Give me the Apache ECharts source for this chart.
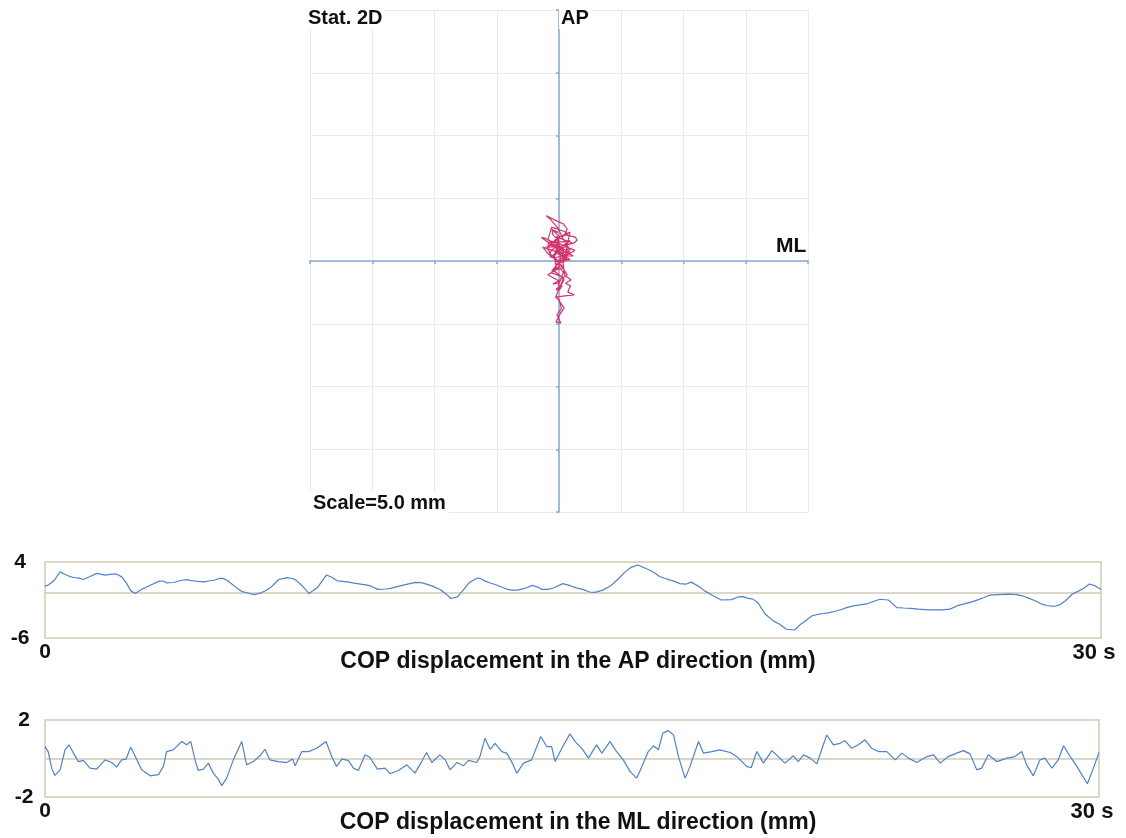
<!DOCTYPE html>
<html>
<head>
<meta charset="utf-8">
<script src="https://cdn.jsdelivr.net/npm/echarts@6/dist/echarts.min.js"></script>
<style>
html,body{margin:0;padding:0;background:#fff;}
#chart{width:1126px;height:838px;}
</style>
</head>
<body>
<div id="chart"></div>
<script>
const times = [
 0.00,0.09,0.19,0.28,0.43,0.57,0.68,0.81,0.95,1.09,1.28,1.47,1.71,1.90,2.04,2.18,2.31,2.44,2.56,2.75,
 2.99,3.23,3.37,3.46,3.65,3.89,4.03,4.15,4.27,4.36,4.51,4.65,4.79,4.93,5.03,5.17,5.36,5.47,5.60,5.74,
 5.93,6.12,6.26,6.40,6.64,6.88,7.05,7.12,7.31,7.50,7.73,8.00,8.16,8.30,8.45,8.63,8.78,8.92,9.11,9.25,
 9.46,9.68,9.82,10.06,10.30,10.53,10.72,10.86,11.01,11.24,11.39,11.53,11.72,11.91,12.05,12.29,12.38,12.52,12.67,12.81,
 13.00,13.14,13.28,13.43,13.62,13.85,14.00,14.11,14.28,14.42,14.52,14.71,14.94,15.09,15.28,15.47,15.61,15.70,15.85,16.08,
 16.27,16.46,16.65,16.84,16.99,17.17,17.32,17.46,17.58,17.74,17.89,18.03,18.22,18.36,18.60,18.74,18.98,19.21,19.50,19.69,
 19.83,19.97,20.10,20.26,20.45,20.69,20.87,21.06,21.30,21.44,21.59,21.78,21.97,22.11,22.25,22.44,22.63,22.77,22.96,23.15,
 23.34,23.53,23.72,23.96,24.20,24.39,24.58,24.81,25.10,25.29,25.48,25.71,25.95,26.14,26.33,26.52,26.66,26.85,27.09,27.38,
 27.61,27.80,27.94,28.13,28.32,28.46,28.66,28.84,28.99,29.18,29.37,29.51,29.67,29.84,30.00
];
// COP displacement, medio-lateral (mm)
const mlValues = [
 0.62,0.36,-0.5,-0.88,-0.59,0.45,0.71,0.28,-0.16,-0.1,-0.5,-0.55,-0.07,-0.21,-0.45,-0.07,-0.03,0.59,0.14,-0.59,
 -0.9,-0.84,-0.41,0.36,0.45,0.88,0.71,0.88,-0.07,-0.62,-0.55,-0.24,-0.76,-1.07,-1.41,-1.02,-0.07,0.36,0.88,-0.33,
 -0.16,0.14,0.48,-0.07,-0.16,-0.21,-0.03,-0.38,0.36,0.36,0.53,0.88,0.1,-0.41,-0.03,-0.1,-0.5,-0.62,0.19,0.05,
 -0.55,-0.5,-0.79,-0.62,-0.33,-0.76,-0.16,0.31,-0.21,0.19,-0.07,-0.59,-0.21,-0.38,-0.1,-0.21,0.1,1.05,0.48,0.79,
 0.36,0.28,-0.16,-0.76,-0.24,-0.07,0.62,1.14,0.62,0.62,-0.16,0.53,1.28,0.88,0.53,0.02,0.45,0.71,0.28,0.88,
 0.36,-0.07,-0.67,-1.02,-0.41,0.36,0.66,0.45,1.31,1.45,1.22,0.1,-1.02,-0.41,0.88,0.28,0.36,0.45,0.31,0.1,
 -0.15,-0.41,-0.48,0.36,-0.24,0.41,0.1,-0.24,0.14,-0.16,0.19,0.02,-0.28,0.48,1.22,0.71,0.79,0.93,0.53,0.71,
 0.97,0.53,0.36,0.36,-0.07,0.28,0.02,-0.21,0.1,0.19,-0.24,0.1,0.28,0.41,0.24,-0.59,-0.5,0.19,-0.16,0.02,
 0.1,0.36,-0.33,-0.9,-0.07,0.02,-0.5,-0.07,0.66,0.1,-0.41,-0.84,-1.31,-0.5,0.31
];
// COP displacement, antero-posterior (mm)
const apValues = [
 0.83,0.96,1.3,1.7,2.7,2.35,2.15,1.96,1.92,1.7,2.1,2.5,2.28,2.4,2.4,2.04,1.25,0.2,-0.13,0.42,
 0.95,1.45,1.5,1.25,1.3,1.6,1.68,1.56,1.5,1.45,1.39,1.5,1.6,1.8,1.88,1.6,0.9,0.5,0.1,-0.05,
 -0.3,-0.1,0.22,0.6,1.7,1.95,1.8,1.65,0.85,-0.15,0.6,2.3,1.95,1.52,1.45,1.35,1.22,1.12,0.98,0.85,
 0.4,0.45,0.52,0.82,1.08,1.32,1.25,1.05,0.82,0.35,-0.2,-0.8,-0.6,0.45,1.3,1.9,1.8,1.45,1.2,1.0,
 0.65,0.4,0.3,0.3,0.52,0.92,0.7,0.4,0.4,0.55,0.75,1.15,0.85,0.6,0.4,0.05,0.0,0.1,0.3,0.9,
 1.7,2.6,3.3,3.6,3.3,2.95,2.55,2.1,1.9,1.65,1.45,1.15,1.1,1.35,0.7,0.2,-0.45,-1.0,-0.95,-0.6,
 -0.55,-0.78,-0.85,-1.4,-2.8,-3.75,-4.2,-4.85,-4.95,-4.3,-3.8,-3.1,-2.88,-2.78,-2.7,-2.48,-2.25,-2.0,-1.78,-1.65,
 -1.52,-1.2,-0.9,-1.0,-2.0,-2.05,-2.09,-2.2,-2.3,-2.3,-2.3,-2.2,-1.7,-1.48,-1.25,-0.95,-0.7,-0.35,-0.28,-0.22,
 -0.3,-0.5,-0.75,-1.1,-1.55,-1.72,-1.85,-1.6,-1.1,-0.25,0.2,0.55,1.1,0.85,0.39
];
// Axis ranges / tick labels
const stabRange = [-20, 20];      // mm, 5 mm per grid division
const stabStep = 5;
const apTickLabels = [-6, 4];
const mlTickLabels = [-2, 2];
const timeTickLabels = [0, 30];

const FONT = 'Liberation Sans, Arial, sans-serif';
const BOX = '#cfcdb2';
const AXISBLUE = '#86a9da';

const bold = (size) => ({fontFamily: FONT, fontWeight: 'bold', fontSize: size, color: '#111'});

function timeAxis(grid, yGap) {
  return {
    gridIndex: grid, type: 'value', min: timeTickLabels[0], max: timeTickLabels[1],
    axisLine: {show: false}, axisTick: {show: false}, splitLine: {show: false},
    axisLabel: {
      customValues: timeTickLabels, margin: yGap,
      formatter: v => v === timeTickLabels[1] ? '{e|' + v + ' s}' : '' + v,
      ...bold(21),
      rich: {e: {...bold(22), padding: [0, 14, 0, 0]}}
    }
  };
}
function valueAxis(grid, ticks, margin) {
  return {
    gridIndex: grid, type: 'value', min: ticks[0], max: ticks[1],
    axisLine: {show: false}, axisTick: {show: false}, splitLine: {show: false},
    axisLabel: {customValues: ticks, margin: margin, align: 'center', ...bold(21)}
  };
}
const zeroLine = {
  silent: true, symbol: 'none', animation: false,
  label: {show: false},
  lineStyle: {color: BOX, type: 'solid', width: 1.5},
  data: [{yAxis: 0}]
};

const option = {
  animation: false,
  backgroundColor: '#fff',
  title: [
    {text: 'Stat. 2D', left: 306, top: 7, padding: [1, 2], backgroundColor: '#fff', textStyle: bold(20)},
    {text: 'AP', left: 559, top: 7, padding: [1, 2], backgroundColor: '#fff', textStyle: bold(20)},
    {text: 'ML', left: 774, top: 235, padding: [1, 2], backgroundColor: '#fff', textStyle: bold(21)},
    {text: 'Scale=5.0 mm', left: 310, top: 492, padding: [1, 3], backgroundColor: '#fff', textStyle: bold(20)},
    {text: 'COP displacement in the AP direction (mm)', left: 578, textAlign: 'center', top: 650, padding: 0, textStyle: bold(23)},
    {text: 'COP displacement in the ML direction (mm)', left: 578, textAlign: 'center', top: 811, padding: 0, textStyle: bold(23)}
  ],
  grid: [
    {left: 310, top: 10, width: 498, height: 502},
    {left: 45, top: 562, width: 1056, height: 76, show: true, borderColor: BOX, borderWidth: 1.5},
    {left: 45, top: 720, width: 1054, height: 77, show: true, borderColor: BOX, borderWidth: 1.5}
  ],
  xAxis: [
    {
      gridIndex: 0, type: 'value', min: stabRange[0], max: stabRange[1], interval: stabStep,
      axisLine: {onZero: true, lineStyle: {color: AXISBLUE, width: 1.5}},
      axisTick: {show: true, length: 3, lineStyle: {color: AXISBLUE, width: 1.5}},
      axisLabel: {show: false},
      splitLine: {show: true, lineStyle: {color: '#ebebeb', width: 1}}
    },
    timeAxis(1, 4),
    timeAxis(2, 4)
  ],
  yAxis: [
    {
      gridIndex: 0, type: 'value', min: stabRange[0], max: stabRange[1], interval: stabStep,
      axisLine: {onZero: true, lineStyle: {color: AXISBLUE, width: 1.5}},
      axisTick: {show: true, length: 3, lineStyle: {color: AXISBLUE, width: 1.5}},
      axisLabel: {show: false},
      splitLine: {show: true, lineStyle: {color: '#ebebeb', width: 1}}
    },
    valueAxis(1, apTickLabels, 25),
    valueAxis(2, mlTickLabels, 21)
  ],
  series: [
    {
      type: 'line', xAxisIndex: 0, yAxisIndex: 0, showSymbol: false, z: 5,
      lineStyle: {color: '#d4336b', width: 1.2},
      data: times.map((t, i) => [mlValues[i], apValues[i]])
    },
    {
      type: 'line', xAxisIndex: 1, yAxisIndex: 1, showSymbol: false, z: 5,
      lineStyle: {color: '#4f83c9', width: 1.2},
      data: times.map((t, i) => [t, apValues[i]]),
      markLine: zeroLine
    },
    {
      type: 'line', xAxisIndex: 2, yAxisIndex: 2, showSymbol: false, z: 5,
      lineStyle: {color: '#4f83c9', width: 1.2},
      data: times.map((t, i) => [t, mlValues[i]]),
      markLine: zeroLine
    }
  ]
};

const chart = echarts.init(document.getElementById('chart'), null, {renderer: 'canvas'});
chart.setOption(option);
</script>
</body>
</html>
